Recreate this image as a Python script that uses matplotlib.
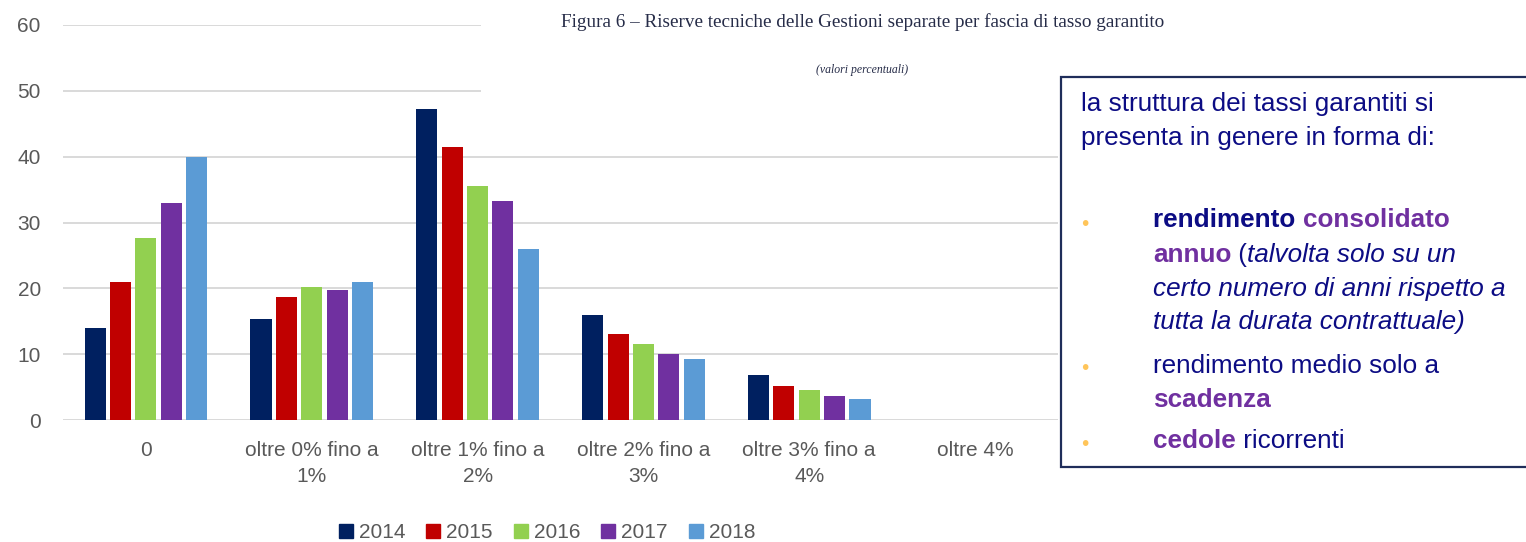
import matplotlib.pyplot as plt
from matplotlib.patches import Patch, Rectangle
from matplotlib.text import Annotation

categories = ['0', 'oltre 0% fino a\n1%', 'oltre 1% fino a\n2%', 'oltre 2% fino a\n3%',
              'oltre 3% fino a\n4%', 'oltre 4%']
years = ['2014', '2015', '2016', '2017', '2018']
v2014 = [13.9, 15.4, 47.2, 16.0, 6.8, 0]
v2015 = [21.0, 18.7, 41.4, 13.0, 5.2, 0]
v2016 = [27.7, 20.2, 35.5, 11.5, 4.5, 0]
v2017 = [32.9, 19.7, 33.2, 10.1, 3.7, 0]
v2018 = [40.0, 21.0, 25.9, 9.2, 3.25, 0]
series = [v2014, v2015, v2016, v2017, v2018]
colors = ['#002060', '#C00000', '#92D050', '#7030A0', '#5B9BD5']

W, H = 1526, 542
fig = plt.figure(figsize=(W / 100, H / 100), dpi=100)
ax = fig.add_axes([63 / W, 1 - 420 / H, (1058 - 63) / W, (420 - 25) / H])

gray = '#595959'
step, bw = 0.153, 0.127
for j, vals in enumerate(series):
    xs = [i + (j - 2) * step for i in range(len(categories))]
    ax.bar(xs, vals, width=bw, color=colors[j], zorder=3)

ax.set_xlim(-0.5, len(categories) - 0.5)
ax.set_ylim(0, 60)
ax.set_yticks(range(0, 61, 10))
ax.set_xticks(range(len(categories)))
ax.set_xticklabels(categories, linespacing=1.5)
ax.tick_params(axis='both', length=0, labelsize=15, labelcolor=gray, labelfontfamily='Liberation Sans')
ax.tick_params(axis='y', pad=16)
ax.tick_params(axis='x', pad=15)
ax.yaxis.grid(True, color='#D9D9D9', linewidth=1.4, zorder=0)
ax.set_axisbelow(True)
for s in ax.spines.values():
    s.set_visible(False)

handles = [Patch(color=c, label=y) for c, y in zip(colors, years)]
fig.legend(handles=handles, loc='center', bbox_to_anchor=(547 / W, 1 - 533 / H), ncol=5,
           frameon=False, handlelength=0.67, handleheight=0.67, handletextpad=0.3,
           columnspacing=1.0, borderpad=0, prop={'family': 'Liberation Sans', 'size': 15},
           labelcolor=gray)

# title image area (covers the top gridlines)
fig.add_artist(Rectangle((481 / W, 1 - 92 / H), (1060 - 481) / W, 92 / H,
                         transform=fig.transFigure, facecolor='white', edgecolor='none', zorder=5))
fig.text(863 / W, 1 - 22 / H,
         'Figura 6 \u2013 Riserve tecniche delle Gestioni separate per fascia di tasso garantito',
         ha='center', va='center', family='Liberation Serif', fontsize=13.8, color='#262C48', zorder=6)
fig.text(862 / W, 1 - 70 / H, '(valori percentuali)', ha='center', va='center',
         family='Liberation Serif', style='italic', fontsize=8.5, color='#262C48', zorder=6)

# text box
fig.add_artist(Rectangle((1061 / W, 1 - 467 / H), 0.32, (467 - 77) / H, transform=fig.transFigure,
                         facecolor='white', edgecolor='#1F2D5A', linewidth=1.6, zorder=5))
navy = '#0C0C84'
purple = '#7030A0'
fs = 18.8


def line(parts, x, y):
    t = None
    for txt, col, weight, st in parts:
        kw = dict(color=col, fontweight=weight, style=st, fontsize=fs,
                  family='Liberation Sans', zorder=7)
        if t is None:
            t = fig.text(x / W, 1 - y / H, txt, ha='left', va='baseline', **kw)
        else:
            t = fig.add_artist(Annotation(txt, xy=(1, 0), xycoords=t, ha='left', va='bottom',
                                          annotation_clip=False, **kw))


line([('la struttura dei tassi garantiti si', navy, 'normal', 'normal')], 1081, 111)
line([('presenta in genere in forma di:', navy, 'normal', 'normal')], 1081, 145)
line([('rendimento ', navy, 'bold', 'normal'), ('consolidato', purple, 'bold', 'normal')], 1153, 227)
line([('annuo', purple, 'bold', 'normal'), (' (', navy, 'normal', 'normal'),
      ('talvolta solo su un', navy, 'normal', 'italic')], 1153, 262)
line([('certo numero di anni rispetto a', navy, 'normal', 'italic')], 1153, 296)
line([('tutta la durata contrattuale)', navy, 'normal', 'italic')], 1153, 329)
line([('rendimento medio solo a', navy, 'normal', 'normal')], 1153, 373)
line([('scadenza', purple, 'bold', 'normal')], 1153, 407)
line([('cedole', purple, 'bold', 'normal'), (' ricorrenti', navy, 'normal', 'normal')], 1153, 448)

for by in [224, 369, 444]:
    fig.text(1085 / W, 1 - by / H, '\u2022', ha='center', va='center', color='#FFC55A',
             fontsize=14, zorder=7)

fig.savefig('out.png', dpi=100)
